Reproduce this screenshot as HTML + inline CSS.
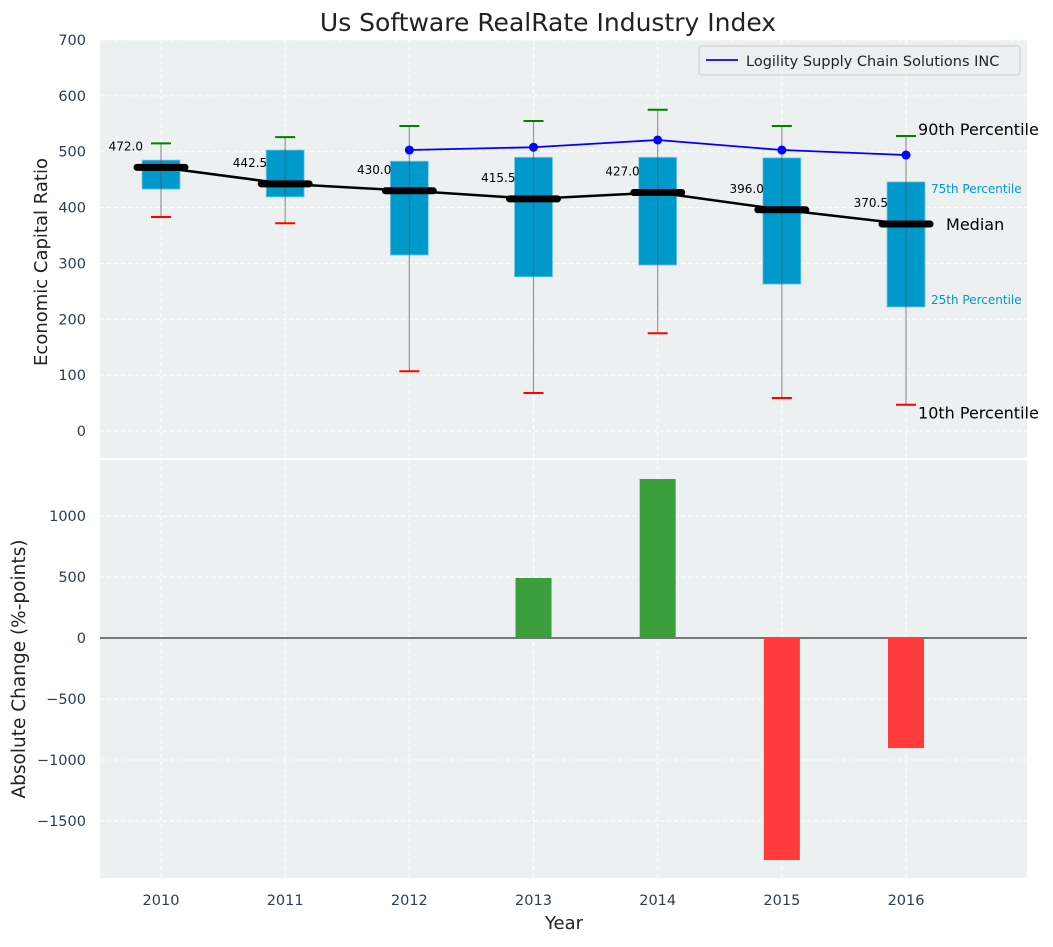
<!DOCTYPE html>
<html><head><meta charset="utf-8"><style>
body{margin:0;background:#fff;font-family:"Liberation Sans","DejaVu Sans",sans-serif}
</style></head><body>
<svg id="chart" width="1053" height="942" xmlns="http://www.w3.org/2000/svg" font-family="DejaVu Sans, Liberation Sans, sans-serif"></svg>
<script>
const years=[2010,2011,2012,2013,2014,2015,2016];
const median=[472.0,442.5,430.0,415.5,427.0,396.0,370.5];
const p90=[515,526,546,555,575,546,528];
const p10=[383,372,107,68,175,59,47];
const q3=[485,503,483,490,490,489,446];
const q1=[433,419,315,276,297,263,222];
const company=[null,null,503,508,521,503,494];
const change=[null,null,null,492,1303,-1820,-902];
const topTicks=[0,100,200,300,400,500,600,700];
const botTicks=[-1500,-1000,-500,0,500,1000];

const svg=document.getElementById('chart');
const NS='http://www.w3.org/2000/svg';
function mk(tag,attrs,parent,text){const e=document.createElementNS(NS,tag);for(const k in attrs)e.setAttribute(k,attrs[k]);if(text!==undefined)e.textContent=text;(parent||svg).appendChild(e);return e;}
const L=100,R=1027;
const xs=i=>161+i*124.17;
const yT=v=>431-v*0.5586;
const yB=v=>638-v*0.122;

let g;
g=mk('rect',{x:L,y:40,width:R-L,height:418,fill:'#ecf0f1'});

g=mk('rect',{x:L,y:460,width:R-L,height:418,fill:'#ecf0f1'});


years.forEach((y,i)=>{
 mk('line',{x1:xs(i),x2:xs(i),y1:40,y2:458,stroke:'#fff','stroke-dasharray':'4,3','stroke-width':1});
 mk('line',{x1:xs(i),x2:xs(i),y1:460,y2:878,stroke:'#fff','stroke-dasharray':'4,3','stroke-width':1});
 g=mk('text',{x:xs(i),y:905,'text-anchor':'middle','font-size':14.5,fill:'#2c3e50'},null,String(y));
 
});
topTicks.forEach(t=>{
 mk('line',{x1:L,x2:R,y1:yT(t),y2:yT(t),stroke:'#fff','stroke-dasharray':'4,3'});
 g=mk('text',{x:86,y:yT(t)+5,'text-anchor':'end','font-size':14.5,fill:'#2c3e50'},null,String(t));
 
});
botTicks.forEach(t=>{
 mk('line',{x1:L,x2:R,y1:yB(t),y2:yB(t),stroke:'#fff','stroke-dasharray':'4,3'});
 g=mk('text',{x:86,y:yB(t)+5,'text-anchor':'end','font-size':14.5,fill:'#2c3e50'},null,String(t).replace('-','\u2212'));
 
});

years.forEach((y,i)=>{
 const x=xs(i);
 g=mk('rect',{x:x-19,y:yT(q3[i]),width:38,height:yT(q1[i])-yT(q3[i]),fill:'#0099cc',stroke:'#7fc8e6','stroke-width':0.8});
 
 g=mk('line',{x1:x,x2:x,y1:yT(p90[i]),y2:yT(p10[i]),stroke:'#555','stroke-opacity':0.6,'stroke-width':1.2});
 
 g=mk('line',{x1:x-10,x2:x+10,y1:yT(p90[i]),y2:yT(p90[i]),stroke:'green','stroke-width':2});
 
 g=mk('line',{x1:x-10,x2:x+10,y1:yT(p10[i]),y2:yT(p10[i]),stroke:'red','stroke-width':2});
 
});
g=mk('polyline',{points:years.map((y,i)=>xs(i)+','+yT(median[i])).join(' '),fill:'none',stroke:'#000','stroke-width':2.5});

years.forEach((y,i)=>{
 const x=xs(i);
 g=mk('line',{x1:x-24,x2:x+24,y1:yT(median[i]),y2:yT(median[i]),stroke:'#000','stroke-width':7,'stroke-linecap':'round'});
 
 g=mk('text',{x:x-18,y:yT(median[i])-17,'text-anchor':'end','font-size':12,fill:'#000'},null,median[i].toFixed(1));
 
});
const cp=[];years.forEach((y,i)=>{if(company[i]!==null)cp.push(xs(i)+','+yT(company[i]));});
g=mk('polyline',{points:cp.join(' '),fill:'none',stroke:'#0000ff','stroke-width':1.8});

years.forEach((y,i)=>{if(company[i]===null)return;
 g=mk('circle',{cx:xs(i),cy:yT(company[i]),r:4.5,fill:'#0000ff'});
 
});
const xl=xs(6);
[['90th Percentile',xl+12,yT(p90[6])-1,16,'#000','label-90th'],
 ['75th Percentile',xl+25,yT(q3[6])+11,12,'#0099cc','label-75th'],
 ['Median',xl+40,yT(median[6])+6,16,'#000','label-median'],
 ['25th Percentile',xl+25,yT(q1[6])-3,12,'#0099cc','label-25th'],
 ['10th Percentile',xl+12,yT(p10[6])+14,16,'#000','label-10th']].forEach(a=>{
 g=mk('text',{x:a[1],y:a[2],'font-size':a[3],fill:a[4]},null,a[0]);
 
});
g=mk('g',{});
mk('rect',{x:699,y:46,width:321,height:29,rx:3,fill:'#ecf0f1',stroke:'#ccc'},g);
mk('line',{x1:706,x2:738,y1:60,y2:60,stroke:'#0000ff','stroke-width':1.8},g);
mk('text',{x:746,y:66,'font-size':14.5,fill:'#222'},g,'Logility Supply Chain Solutions INC');

mk('line',{x1:L,x2:R,y1:yB(0),y2:yB(0),stroke:'#000','stroke-width':1});
years.forEach((y,i)=>{if(change[i]===null)return;
 const v=change[i];
 g=mk('rect',{x:xs(i)-18,y:Math.min(yB(v),yB(0)),width:36,height:Math.abs(yB(v)-yB(0)),fill:v>=0?'#3a9e3a':'#ff3b3b'});
 
});

g=mk('text',{x:548,y:31,'text-anchor':'middle','font-size':25,fill:'#222'},null,'Us Software RealRate Industry Index');

g=mk('text',{x:564,y:929,'text-anchor':'middle','font-size':18,fill:'#222'},null,'Year');

g=mk('text',{x:0,y:0,'text-anchor':'middle','font-size':18,fill:'#222',transform:'translate(47,262) rotate(-90)'},null,'Economic Capital Ratio');

g=mk('text',{x:0,y:0,'text-anchor':'middle','font-size':18.5,fill:'#222',transform:'translate(25,669) rotate(-90)'},null,'Absolute Change (%-points)');

</script>
</body></html>
